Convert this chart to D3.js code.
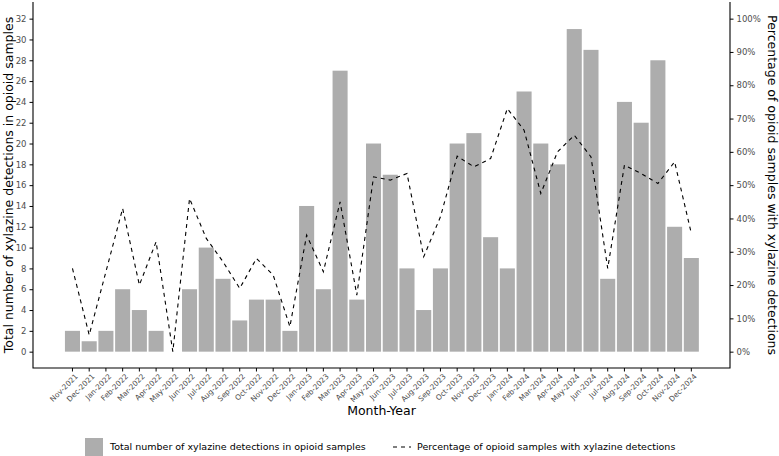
<!DOCTYPE html>
<html>
<head>
<meta charset="utf-8">
<script src="https://cdn.jsdelivr.net/npm/d3@7"></script>
<style>
  body { margin: 0; background: #fff; }
  text { font-family: "DejaVu Sans", sans-serif; }
</style>
</head>
<body>
<svg id="chart"></svg>
<script>
// months shown on the x axis
const months = ["Nov-2021","Dec-2021","Jan-2022","Feb-2022","Mar-2022","Apr-2022","May-2022","Jun-2022",
  "Jul-2022","Aug-2022","Sep-2022","Oct-2022","Nov-2022","Dec-2022","Jan-2023","Feb-2023","Mar-2023",
  "Apr-2023","May-2023","Jun-2023","Jul-2023","Aug-2023","Sep-2023","Oct-2023","Nov-2023","Dec-2023",
  "Jan-2024","Feb-2024","Mar-2024","Apr-2024","May-2024","Jun-2024","Jul-2024","Aug-2024","Sep-2024",
  "Oct-2024","Nov-2024","Dec-2024"];

// total xylazine detections (bars)
const detections = [2,1,2,6,4,2,0,6,10,7,3,5,5,2,14,6,27,5,20,17,8,4,8,20,21,11,8,25,20,18,31,29,7,24,22,28,12,9];

// percentage of opioid samples with xylazine (dashed line)
const percents = [25,5,24,43,20,33,0,46,34,27,19,28,23,7.5,35,24,45,17,52.5,51.5,53.5,28.5,40.5,58.7,55.5,58,
  73,66.5,47.5,60,65,58.5,25,56,53.5,50.5,57,35.5];

const leftTicks = d3.range(0, 33, 2);
const rightTicks = d3.range(0, 101, 10);

const svgWidth = 779, svgHeight = 456;
const plot = { left: 33, right: 730, top: 2, bottom: 368 };

const svg = d3.select("#chart").attr("width", svgWidth).attr("height", svgHeight);

// x scale - one band per month
const x = d3.scaleBand()
  .domain(months)
  .range([64.1, 699.7])
  .paddingInner(0.1)
  .paddingOuter(0.05);

// left scale for counts, right scale for percent (100% lines up with 32)
const y = d3.scaleLinear().domain([-1.57, 33.6]).range([plot.bottom, plot.top]);
const yPct = d3.scaleLinear().domain([-1.57 / 32 * 100, 33.6 / 32 * 100]).range([plot.bottom, plot.top]);

// bars
svg.append("g")
  .selectAll("rect")
  .data(detections)
  .join("rect")
  .attr("x", (d, i) => x(months[i]))
  .attr("width", x.bandwidth())
  .attr("y", d => y(d))
  .attr("height", d => y(0) - y(d))
  .attr("fill", "#adadad");

// dashed line
const line = d3.line()
  .x((d, i) => x(months[i]) + x.bandwidth() / 2)
  .y(d => yPct(d));

svg.append("path")
  .datum(percents)
  .attr("fill", "none")
  .attr("stroke", "#000")
  .attr("stroke-width", 1.1)
  .attr("stroke-dasharray", "4,4")
  .attr("d", line);

// axes
const xAxis = svg.append("g")
  .attr("transform", "translate(0," + plot.bottom + ")")
  .call(d3.axisBottom(x).tickSizeOuter(0).tickSize(3.5).tickPadding(2));
xAxis.select(".domain").remove();
xAxis.selectAll("text")
  .attr("font-size", 7.4)
  .attr("fill", "#4d4d4d")
  .attr("text-anchor", "end")
  .attr("dy", 0)
  .attr("transform", "translate(2,5) rotate(-45)");

const yAxis = svg.append("g")
  .attr("transform", "translate(" + plot.left + ",0)")
  .call(d3.axisLeft(y).tickValues(leftTicks).tickSize(3.5).tickPadding(3));
yAxis.select(".domain").remove();
yAxis.selectAll("text").attr("font-size", 8.5).attr("fill", "#4d4d4d");

const yAxisR = svg.append("g")
  .attr("transform", "translate(" + plot.right + ",0)")
  .call(d3.axisRight(yPct).tickValues(rightTicks).tickSize(3.5).tickPadding(3).tickFormat(d => d + "%"));
yAxisR.select(".domain").remove();
yAxisR.selectAll("text").attr("font-size", 8.5).attr("fill", "#4d4d4d");

// axis frame lines (left, bottom, right)
svg.append("path")
  .attr("d", "M" + plot.left + "," + plot.top + "V" + plot.bottom + "H" + plot.right + "V" + plot.top)
  .attr("fill", "none")
  .attr("stroke", "#000")
  .attr("stroke-width", 1.1);

// axis titles
svg.append("text")
  .attr("x", (plot.left + plot.right) / 2)
  .attr("y", 415)
  .attr("text-anchor", "middle")
  .attr("font-size", 12.5)
  .text("Month-Year");

svg.append("text")
  .attr("transform", "translate(13," + (plot.top + plot.bottom) / 2 + ") rotate(-90)")
  .attr("text-anchor", "middle")
  .attr("font-size", 12.5)
  .text("Total number of xylazine detections in opioid samples");

svg.append("text")
  .attr("transform", "translate(768," + (plot.top + plot.bottom) / 2 + ") rotate(90)")
  .attr("text-anchor", "middle")
  .attr("font-size", 12.5)
  .text("Percentage of opioid samples with xylazine detections");

// legend
const legend = svg.append("g");
legend.append("rect")
  .attr("x", 85).attr("y", 438).attr("width", 18).attr("height", 18)
  .attr("fill", "#adadad");
legend.append("text")
  .attr("x", 110).attr("y", 450)
  .attr("font-size", 9.5)
  .text("Total number of xylazine detections in opioid samples");
legend.append("line")
  .attr("x1", 393).attr("x2", 411).attr("y1", 447).attr("y2", 447)
  .attr("stroke", "#000").attr("stroke-width", 1.1).attr("stroke-dasharray", "4,4");
legend.append("text")
  .attr("x", 417).attr("y", 450)
  .attr("font-size", 9.5)
  .text("Percentage of opioid samples with xylazine detections");
</script>
</body>
</html>
